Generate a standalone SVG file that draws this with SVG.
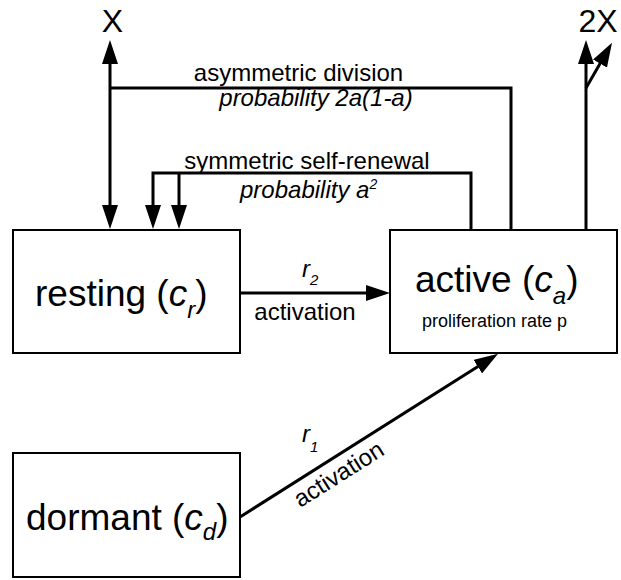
<svg xmlns="http://www.w3.org/2000/svg" width="621" height="580" viewBox="0 0 621 580">
<style>
.box{fill:#fff;stroke:#000;stroke-width:2}
.ln{fill:none;stroke:#000;stroke-width:3}
text{font-family:"Liberation Sans",Arial,sans-serif;fill:#000}
.big{font-size:37px}
.lbl{font-size:24px}
.it{font-style:italic}
</style>
<defs>
<marker id="ah" markerUnits="userSpaceOnUse" markerWidth="24" markerHeight="16" refX="18" refY="8" orient="auto" viewBox="0 0 24 16">
<path d="M0,0 L24,8 L0,16 z" fill="#000"/>
</marker>
</defs>
<rect width="621" height="580" fill="#fff"/>
<g id="connectors">
<path class="ln" d="M110,88 V46" marker-end="url(#ah)"/>
<path class="ln" d="M110,88 V223" marker-end="url(#ah)"/>
<path class="ln" d="M110,88 H511 V230"/>
<path class="ln" d="M471,230 V173 H153 V223" marker-end="url(#ah)"/>
<path class="ln" d="M179,173 V223" marker-end="url(#ah)"/>
<path class="ln" d="M586,230 V46" marker-end="url(#ah)"/>
<path class="ln" d="M586,88 L609,48" marker-end="url(#ah)"/>
<path class="ln" d="M240,293 H384" marker-end="url(#ah)"/>
<path class="ln" d="M240,517 L493,357" marker-end="url(#ah)"/>
<text class="lbl" x="298.5" y="81" text-anchor="middle">asymmetric division</text>
<text class="lbl it" x="316" y="106" text-anchor="middle">probability 2a(1-a)</text>
<text class="lbl" x="307" y="169" text-anchor="middle">symmetric self-renewal</text>
<text class="lbl it" x="240" y="198">probability a<tspan font-size="14" dy="-9">2</tspan></text>
<text class="lbl it" x="302" y="277">r<tspan font-size="15" dy="8">2</tspan></text>
<text class="lbl" x="305" y="320" text-anchor="middle">activation</text>
<text class="lbl it" x="302" y="442">r<tspan font-size="15" dy="10">1</tspan></text>
<text class="lbl" transform="translate(343,481) rotate(-32.3)" text-anchor="middle">activation</text>
</g>
<g id="X">
<text x="112.5" y="32" font-size="32" text-anchor="middle">X</text>
</g>
<g id="twoX">
<text x="598" y="32" font-size="32" text-anchor="middle">2X</text>
</g>
<g id="resting">
<rect class="box" x="13" y="230" width="227" height="123"/>
<text class="big" x="35" y="306">resting (<tspan class="it">c</tspan><tspan class="it" font-size="24" dy="12">r</tspan><tspan dy="-12">)</tspan></text>
</g>
<g id="active">
<rect class="box" x="390" y="230" width="227" height="123"/>
<text class="big" x="415" y="292">active (<tspan class="it">c</tspan><tspan class="it" font-size="24" dy="12">a</tspan><tspan dy="-12">)</tspan></text>
<text x="494.5" y="327" font-size="18" text-anchor="middle">proliferation rate p</text>
</g>
<g id="dormant">
<rect class="box" x="13" y="453" width="227" height="124"/>
<text class="big" x="26" y="530">dormant (<tspan class="it">c</tspan><tspan class="it" font-size="24" dy="10">d</tspan><tspan dy="-10">)</tspan></text>
</g>
</svg>
